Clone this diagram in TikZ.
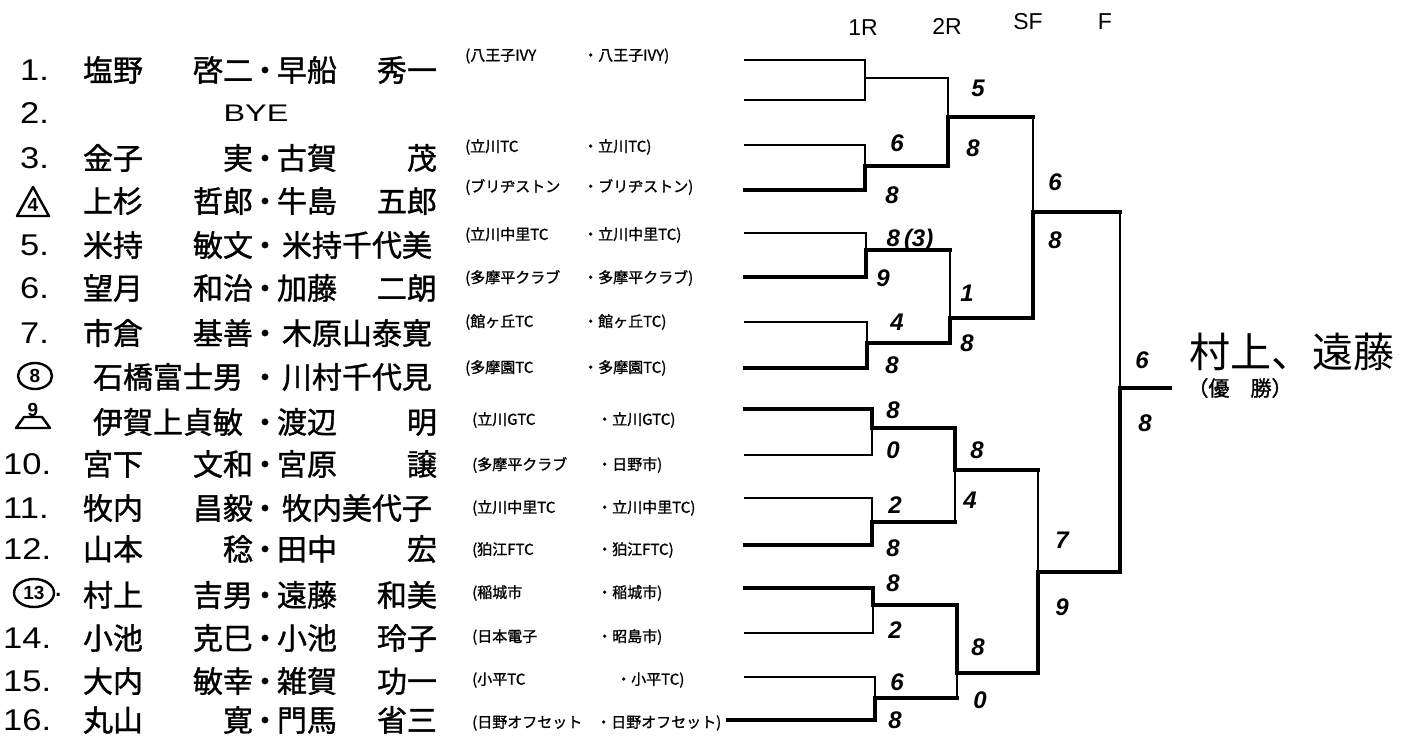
\documentclass[tikz,border=0pt]{standalone}
\usepackage{fontspec}
\usepackage{graphicx}
\newfontfamily\jpf{Noto Sans CJK JP}
\newfontfamily\jpb{Noto Sans CJK JP}[FakeBold=1.2]
\newfontfamily\numf{Liberation Sans}
\begin{document}
\begin{tikzpicture}[x=1pt,y=-1pt,
  ln/.style={line width=2.2pt,line cap=rect},
  win/.style={line width=4.5pt,line cap=rect},
  nm/.style={inner sep=0pt,font=\jpb\fontsize{30}{30}\selectfont},
  club/.style={inner sep=0pt,anchor=west,font=\jpb\fontsize{15}{15}\selectfont},
  num/.style={inner sep=0pt,anchor=west,font=\numf\fontsize{30}{30}\selectfont},
  mk/.style={inner sep=0pt,font=\numf\bfseries\fontsize{19}{19}\selectfont},
  mkline/.style={line width=2.4pt,line join=round},
  hdr/.style={inner sep=0pt,font=\numf\fontsize{23}{23}\selectfont},
  score/.style={inner sep=0pt,font=\numf\bfseries\itshape\fontsize{24}{24}\selectfont},
]
\fill[white] (0,0) rectangle (1407,747);
\useasboundingbox (0,0) rectangle (1407,747);

% headers
\node[hdr] (h1) at (863,28) {1R};
\node[hdr] (h2) at (947,26) {2R};
\node[hdr] (h3) at (1028,22) {SF};
\node[hdr] (h4) at (1105,22) {F};

% players
\foreach \i/\ny/\cy/\lft/\rgt/\ca/\cb/\xa/\xb in {
  1/70/56/{塩野\hfill 啓二}/{早船\hfill 秀一}/八王子IVY/八王子IVY/465/583,
  3/158/147/{金子\hfill 実}/{古賀\hfill 茂}/立川TC/立川TC/465/583,
  4/201/187/{上杉\hfill 哲郎}/{牛島\hfill 五郎}/ブリヂストン/ブリヂストン/465/583,
  5/245/235/{米持\hfill 敏文}/{米持千代美}/立川中里TC/立川中里TC/465/583,
  6/288/278/{望月\hfill 和治}/{加藤\hfill 二朗}/多摩平クラブ/多摩平クラブ/465/583,
  7/333/322/{市倉\hfill 基善}/{木原山泰寛}/館ヶ丘TC/館ヶ丘TC/465/583,
  8/377/368/{石橋富士男}/{川村千代見}/多摩園TC/多摩園TC/465/583,
  9/422/420/{伊賀上貞敏}/{渡辺\hfill 明}/立川GTC/立川GTC/472/597,
  10/464/465/{宮下\hfill 文和}/{宮原\hfill 譲}/多摩平クラブ/日野市/472/597,
  11/508/508/{牧内\hfill 昌毅}/{牧内美代子}/立川中里TC/立川中里TC/472/597,
  12/549/550/{山本\hfill 稔}/{田中\hfill 宏}/狛江FTC/狛江FTC/472/597,
  13/595/593/{村上\hfill 吉男}/{遠藤\hfill 和美}/稲城市/稲城市/472/597,
  14/638/637/{小池\hfill 克巳}/{小池\hfill 玲子}/日本電子/昭島市/472/597,
  15/681/680/{大内\hfill 敏幸}/{雑賀\hfill 功一}/小平TC/小平TC/472/616,
  16/720/723/{丸山\hfill 寛}/{門馬\hfill 省三}/日野オフセット/日野オフセット/472/596}{
  \node[nm] (P\i) at (260,\ny) {\makebox[170pt]{\lft}\makebox[24pt]{・}\makebox[160pt]{\rgt}};
  \node[club] (CA\i) at (\xa,\cy) {(\ca};
  \node[club] (CB\i) at (\xb,\cy) {・\cb)};
}
\node[inner sep=0pt,font=\numf\fontsize{24}{24}\selectfont] (bye) at (256,113) {\scalebox{1.35}[1]{BYE}};

% numbers
\foreach \i/\ny/\nx in {1/70/20,2/113/20,3/158/20,5/245/20,6/288/20,7/333/20,
  10/464/3,11/508/3,12/549/3,14/638/3,15/681/3,16/720/3}{
  \node[num] (N\i) at (\nx,\ny) {\scalebox{1.15}[1]{\i.}};
}
% seed marks
\node[mk] (N4) at (33,205) {4};
\draw[mkline] (17,216) -- (33,187) -- (49,216) -- cycle;
\node[mk] (N8) at (35,376) {8};
\draw[mkline] (N8.center) ellipse [x radius=17pt, y radius=13pt];
\node[mk] (N9) at (33,410) {9};
\draw[mkline] (16,428) -- (24,417) -- (42,417) -- (50,428) -- cycle;
\node[mk] (N13) at (34,593) {13};
\draw[mkline] (N13.center) ellipse [x radius=20pt, y radius=14pt];
\node[num] (N13p) at (54,595) {.};

% bracket points
\foreach \n/\x/\y in {r1/745/60,r2/745/100,r3/745/145,r4/745/190,r5/745/233,r6/745/277,
  r7/745/322,r8/745/368,r9/745/409,r10/745/455,r11/745/498,r12/745/545,r13/745/588,
  r14/745/633,r15/745/677,r16/728/720,
  m1/865/78,m2/865/166,m3/866/250,m4/867/343,m5/948/117,m6/950/318,m7/1033/212,
  m8/872/428,m9/872/522,m10/873/605,m11/875/698,m12/955/470,m13/957/673,m14/1038/572,
  m15/1120/388,champ/1170/388}{
  \coordinate (\n) at (\x,\y);
}
% first-round lines
\foreach \r/\m/\s in {r1/m1/ln,r2/m1/ln,r3/m2/ln,r4/m2/win,r5/m3/ln,r6/m3/win,r7/m4/ln,r8/m4/win,
  r9/m8/win,r10/m8/ln,r11/m9/ln,r12/m9/win,r13/m10/win,r14/m10/ln,r15/m11/ln,r16/m11/win}{
  \draw[\s] (\r) -- (\r -| \m);
}
% matches: vertical halves and output
\foreach \m/\a/\b/\n/\sa/\sb/\so in {
  m1/r1/r2/m5/ln/ln/ln, m2/r3/r4/m5/ln/win/win, m3/r5/r6/m6/ln/win/win, m4/r7/r8/m6/ln/win/win,
  m5/m1/m2/m7/ln/win/win, m6/m3/m4/m7/ln/win/win, m7/m5/m6/m15/ln/win/win,
  m8/r9/r10/m12/win/ln/win, m9/r11/r12/m12/ln/win/win, m10/r13/r14/m13/win/ln/win,
  m11/r15/r16/m13/ln/win/win, m12/m8/m9/m14/win/ln/win, m13/m10/m11/m14/win/ln/win,
  m14/m12/m13/m15/ln/win/win, m15/m7/m14/champ/ln/win/win}{
  \draw[\sa] (\a -| \m) -- (\m);
  \draw[\sb] (\m) -- (\b -| \m);
  \draw[\so] (\m) -- (\m -| \n);
}

% scores
\foreach \nm/\x/\y/\t in {
  sa2/897/143/6, sb2/892/195/8, sa3/910/240/{8\,(3)}, sb3/883/278/9,
  sa4/897/322/4, sb4/892/365/8, sa5/978/88/5, sb5/973/148/8,
  sa6/967/293/1, sb6/967/343/8, sa7/1055/182/6, sb7/1055/240/8,
  sa8/893/410/8, sb8/893/450/0, sa9/895/505/2, sb9/893/548/8,
  sa10/893/583/8, sb10/895/630/2, sa11/897/682/6, sb11/895/720/8,
  sa12/977/450/8, sb12/970/500/4, sa13/978/647/8, sb13/980/700/0,
  sa14/1062/540/7, sb14/1062/607/9, sa15/1142/360/6, sb15/1145/423/8}{
  \node[score] (\nm) at (\x,\y) {\t};
}

% champion
\node[inner sep=0pt,font=\jpf\fontsize{41}{41}\selectfont] (champname) at (1292,352) {村上、遠藤};
\node[inner sep=0pt,font=\jpb\fontsize{21}{21}\selectfont] (yusho) at (1240,388) {（優　勝）};
\end{tikzpicture}
\end{document}
